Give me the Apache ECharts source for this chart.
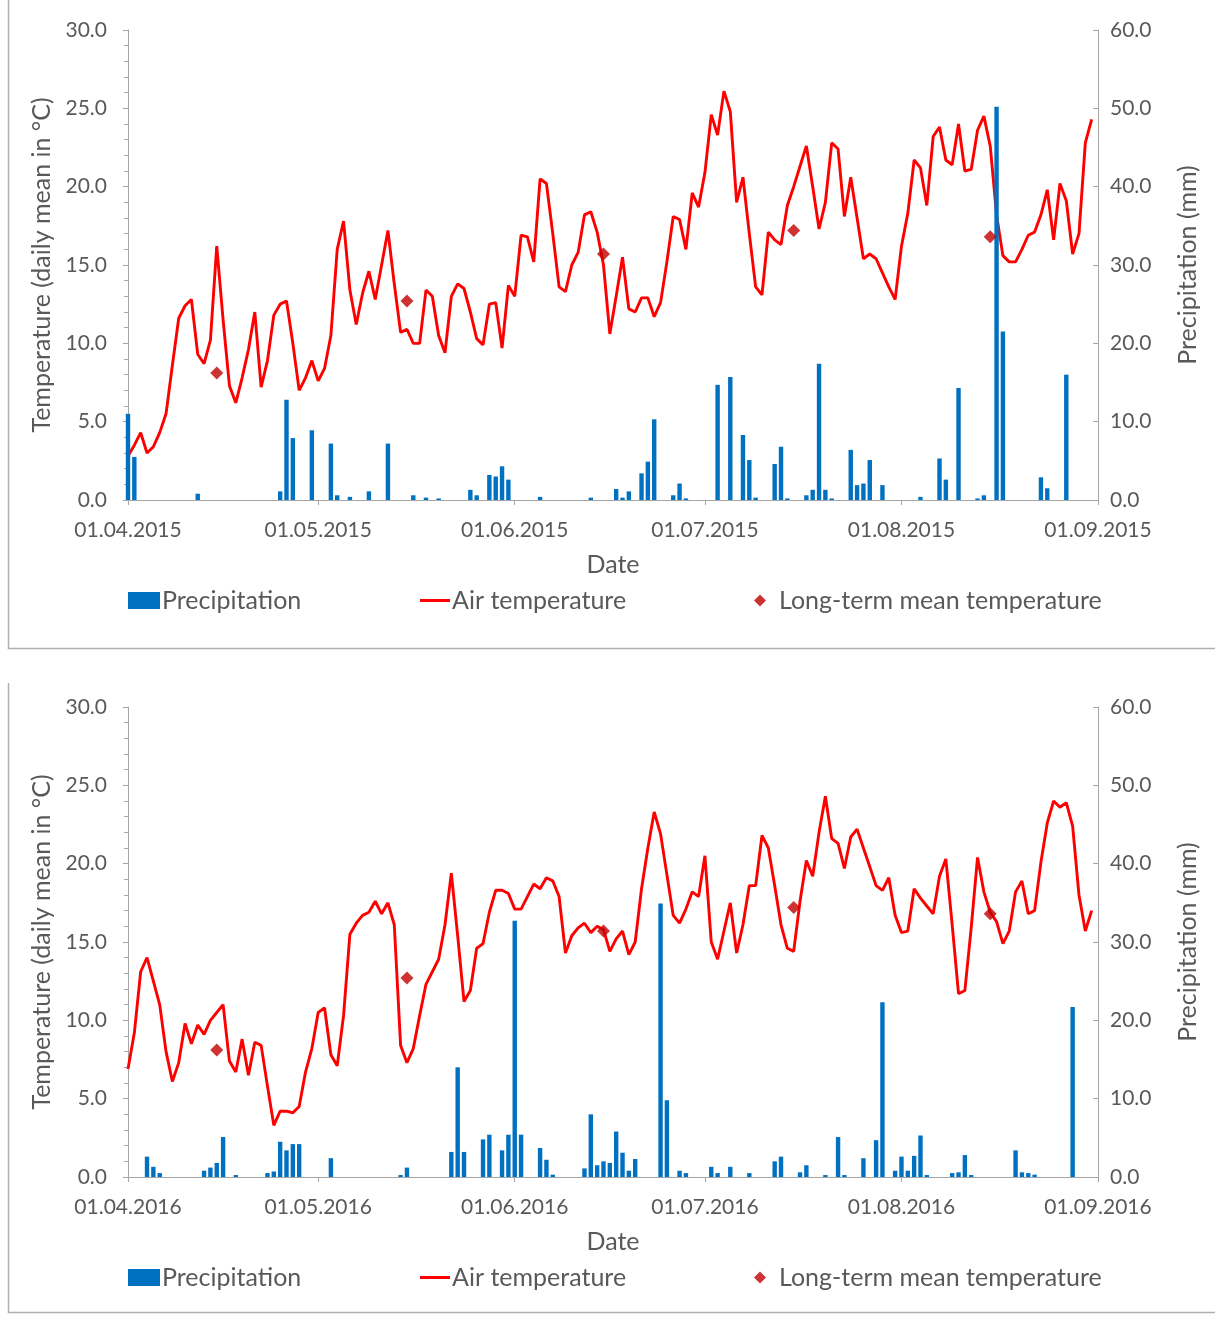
<!DOCTYPE html>
<html>
<head>
<meta charset="utf-8">
<script src="https://cdn.jsdelivr.net/npm/echarts@6/dist/echarts.min.js"></script>
<style>
html,body{margin:0;padding:0;background:#ffffff;}
#chart{width:1215px;height:1320px;}
</style>
</head>
<body>
<div id="chart"></div>
<script>
// ---------------- DATA ----------------
// Daily mean air temperature (°C), 01.04 … 31.08
const temp2015 = [
  2.8, 3.5, 4.3, 3.0, 3.4, 4.3, 5.5, 8.6, 11.6, 12.4,
  12.8, 9.3, 8.7, 10.2, 16.2, 11.5, 7.3, 6.2, 7.8, 9.6,
  12.0, 7.2, 8.9, 11.8, 12.5, 12.7, 10.0, 7.0, 7.8, 8.9,
  7.6, 8.4, 10.5, 16.0, 17.8, 13.4, 11.2, 13.2, 14.6, 12.8,
  15.0, 17.2, 13.8, 10.7, 10.9, 10.0, 10.0, 13.4, 13.0, 10.5,
  9.4, 13.0, 13.8, 13.5, 12.0, 10.3, 9.9, 12.5, 12.6, 9.7,
  13.7, 13.0, 16.9, 16.8, 15.2, 20.5, 20.2, 17.0, 13.6, 13.3,
  15.0, 15.8, 18.2, 18.4, 17.1, 15.0, 10.6, 13.0, 15.5, 12.2,
  12.0, 12.9, 12.9, 11.7, 12.6, 15.2, 18.1, 17.9, 16.0, 19.6,
  18.7, 20.9, 24.6, 23.3, 26.1, 24.8, 19.0, 20.6, 17.0, 13.6,
  13.1, 17.1, 16.6, 16.3, 18.8, 20.0, 21.3, 22.6, 20.0, 17.3,
  19.0, 22.8, 22.4, 18.1, 20.6, 18.0, 15.4, 15.7, 15.4, 14.5,
  13.6, 12.8, 16.2, 18.3, 21.7, 21.2, 18.8, 23.2, 23.8, 21.7,
  21.4, 24.0, 21.0, 21.1, 23.6, 24.5, 22.6, 18.2, 15.6, 15.2,
  15.2, 16.0, 16.9, 17.1, 18.2, 19.8, 16.6, 20.2, 19.1, 15.7,
  17.0, 22.8, 24.3
];
// Daily precipitation (mm), 01.04 … 31.08
const precip2015 = [
  11.0, 5.5, 0, 0, 0, 0, 0, 0, 0, 0,
  0, 0.8, 0, 0, 0, 0, 0, 0, 0, 0,
  0, 0, 0, 0, 1.1, 12.8, 7.9, 0, 0, 8.9,
  0, 0, 7.2, 0.6, 0, 0.4, 0, 0, 1.1, 0,
  0, 7.2, 0, 0, 0, 0.6, 0, 0.3, 0, 0.2,
  0, 0, 0, 0, 1.3, 0.6, 0, 3.2, 3.0, 4.3,
  2.6, 0, 0, 0, 0, 0.4, 0, 0, 0, 0,
  0, 0, 0, 0.3, 0, 0, 0, 1.4, 0.3, 1.1,
  0, 3.4, 4.9, 10.3, 0, 0, 0.6, 2.1, 0.2, 0,
  0, 0, 0, 14.7, 0, 15.7, 0, 8.3, 5.1, 0.3,
  0, 0, 4.6, 6.8, 0.2, 0, 0, 0.6, 1.3, 17.4,
  1.3, 0.2, 0, 0, 6.4, 1.9, 2.1, 5.1, 0, 1.9,
  0, 0, 0, 0, 0, 0.4, 0, 0, 5.3, 2.6,
  0, 14.3, 0, 0, 0.2, 0.6, 0, 50.2, 21.5, 0,
  0, 0, 0, 0, 2.9, 1.5, 0, 0, 16.0, 0,
  0, 0, 0
];
const temp2016 = [
  6.9, 9.2, 13.1, 14.0, 12.5, 11.0, 8.0, 6.1, 7.3, 9.8,
  8.5, 9.7, 9.1, 10.0, 10.5, 11.0, 7.4, 6.7, 8.8, 6.5,
  8.6, 8.4, 5.8, 3.3, 4.2, 4.2, 4.1, 4.5, 6.7, 8.2,
  10.5, 10.8, 7.8, 7.1, 10.3, 15.5, 16.2, 16.7, 16.9, 17.6,
  16.8, 17.5, 16.1, 8.4, 7.3, 8.2, 10.3, 12.3, 13.1, 13.9,
  16.1, 19.4, 15.4, 11.2, 11.9, 14.6, 14.9, 16.9, 18.3, 18.3,
  18.1, 17.1, 17.1, 17.9, 18.7, 18.4, 19.1, 18.9, 17.9, 14.3,
  15.4, 15.9, 16.2, 15.6, 16.0, 15.8, 14.4, 15.2, 15.7, 14.2,
  15.0, 18.4, 21.0, 23.3, 21.9, 19.3, 16.7, 16.2, 17.1, 18.2,
  17.9, 20.5, 15.0, 13.9, 15.7, 17.5, 14.3, 16.1, 18.6, 18.6,
  21.8, 21.0, 18.6, 16.1, 14.6, 14.4, 17.6, 20.2, 19.2, 22.0,
  24.3, 21.6, 21.3, 19.7, 21.7, 22.2, 21.0, 19.8, 18.6, 18.3,
  19.1, 16.7, 15.6, 15.7, 18.4, 17.8, 17.3, 16.8, 19.2, 20.3,
  16.1, 11.7, 11.9, 15.9, 20.4, 18.2, 16.9, 16.3, 14.9, 15.7,
  18.2, 18.9, 16.8, 17.0, 20.1, 22.6, 24.0, 23.6, 23.9, 22.4,
  18.0, 15.7, 17.0
];
const precip2016 = [
  0, 0, 0, 2.6, 1.3, 0.5, 0, 0, 0, 0,
  0, 0, 0.8, 1.2, 1.8, 5.1, 0, 0.25, 0, 0,
  0, 0, 0.5, 0.7, 4.5, 3.4, 4.2, 4.2, 0, 0,
  0, 0, 2.4, 0, 0, 0, 0, 0, 0, 0,
  0, 0, 0, 0.25, 1.2, 0, 0, 0, 0, 0,
  0, 3.2, 14.0, 3.2, 0, 0, 4.8, 5.4, 0, 3.4,
  5.4, 32.7, 5.4, 0, 0, 3.7, 2.2, 0.3, 0, 0,
  0, 0, 1.1, 8.0, 1.5, 2.0, 1.8, 5.8, 3.1, 0.8,
  2.3, 0, 0, 0, 34.9, 9.8, 0, 0.8, 0.5, 0,
  0, 0, 1.3, 0.5, 0, 1.3, 0, 0, 0.5, 0,
  0, 0, 2.0, 2.6, 0, 0, 0.6, 1.5, 0, 0,
  0.25, 0, 5.1, 0.25, 0, 0, 2.4, 0, 4.7, 22.3,
  0, 0.8, 2.6, 0.8, 2.7, 5.3, 0.25, 0, 0, 0,
  0.5, 0.6, 2.8, 0.25, 0, 0, 0, 0, 0, 0,
  3.4, 0.6, 0.5, 0.3, 0, 0, 0, 0, 0, 21.7,
  0, 0, 0
];
// Long-term monthly mean temperature, plotted mid-month
const longTermDays = ['15.04', '15.05', '15.06', '15.07', '15.08'];
const longTermMean = [8.1, 12.7, 15.7, 17.2, 16.8];
// Axis ticks
const tempTicks = [0, 5, 10, 15, 20, 25, 30];
const precipTicks = [0, 10, 20, 30, 40, 50, 60];

// ---------------- HELPERS ----------------
function pad(n){ return (n < 10 ? '0' : '') + n; }
function dayCategories(year){
  const out = [];
  const d = new Date(Date.UTC(year, 3, 1));
  const end = Date.UTC(year, 8, 1);
  while (d.getTime() <= end){
    out.push(pad(d.getUTCDate()) + '.' + pad(d.getUTCMonth() + 1) + '.' + year);
    d.setUTCDate(d.getUTCDate() + 1);
  }
  return out;
}
const cats2015 = dayCategories(2015);
const cats2016 = dayCategories(2016);

const FONT = 'Lato';
const TXT = '#595959';
const AXIS = '#A6A6A6';
const monthStart = function(idx, val){ return String(val).slice(0, 3) === '01.'; };

function panel(i, cats, top){
  const xAxis = {
    type: 'category', gridIndex: i, data: cats, boundaryGap: false,
    axisLine: {show: true, lineStyle: {color: AXIS, width: 1}},
    axisTick: {show: true, interval: monthStart, length: 5, lineStyle: {color: AXIS}},
    axisLabel: {interval: monthStart, margin: 20, fontSize: 21, color: TXT, fontFamily: FONT, showMaxLabel: true, showMinLabel: true},
    splitLine: {show: false},
    name: 'Date', nameLocation: 'middle', nameGap: 52,
    nameTextStyle: {fontSize: 25, color: TXT, fontFamily: FONT}
  };
  const yLeft = {
    type: 'value', gridIndex: i, position: 'left', min: tempTicks[0], max: tempTicks[tempTicks.length - 1], interval: 5,
    axisLine: {show: true, lineStyle: {color: AXIS, width: 1}},
    axisTick: {show: true, length: 5, lineStyle: {color: AXIS}},
    minorTick: {show: true, splitNumber: 5, length: 4, lineStyle: {color: AXIS}},
    splitLine: {show: false},
    axisLabel: {formatter: v => v.toFixed(1), fontSize: 21, color: TXT, fontFamily: FONT, margin: 21},
    name: 'Temperature (daily mean in °C)', nameLocation: 'middle', nameRotate: 90, nameGap: 70,
    nameTextStyle: {fontSize: 25, color: TXT, fontFamily: FONT}
  };
  const yRight = {
    type: 'value', gridIndex: i, position: 'right', min: precipTicks[0], max: precipTicks[precipTicks.length - 1], interval: 10,
    axisLine: {show: true, lineStyle: {color: AXIS, width: 1}},
    axisTick: {show: true, inside: true, length: 5, lineStyle: {color: AXIS}},
    splitLine: {show: false},
    axisLabel: {formatter: v => v.toFixed(1), fontSize: 21, color: TXT, fontFamily: FONT, margin: 12},
    name: 'Precipitation (mm)', nameLocation: 'middle', nameRotate: 90, nameGap: 77,
    nameTextStyle: {fontSize: 25, color: TXT, fontFamily: FONT}
  };
  return {xAxis, yLeft, yRight, grid: {left: 128, top: top, width: 970, height: 470, containLabel: false}};
}

const p0 = panel(0, cats2015, 30);
const p1 = panel(1, cats2016, 707);

function seriesFor(i, temp, precip, year){
  return [
    {
      name: 'Air temperature', type: 'line', xAxisIndex: i, yAxisIndex: 2 * i,
      data: temp, showSymbol: false, symbol: 'none', smooth: false,
      lineStyle: {color: '#FF0000', width: 2.9}, itemStyle: {color: '#FF0000'}, z: 2, silent: true
    },
    {
      name: 'Precipitation', type: 'bar', xAxisIndex: i, yAxisIndex: 2 * i + 1,
      data: precip, barWidth: 4.4, clip: false,
      itemStyle: {color: '#0070C0'}, z: 3, silent: true
    },
    {
      name: 'Long-term mean temperature', type: 'scatter', xAxisIndex: i, yAxisIndex: 2 * i,
      data: longTermDays.map((d, k) => [d + '.' + year, longTermMean[k]]),
      symbol: 'diamond', symbolSize: 13, itemStyle: {color: '#C00000'}, z: 4, silent: true
    }
  ];
}

function legends(top){
  const ts = {fontSize: 25, color: TXT, fontFamily: FONT};
  return [
    {left: 128, top: top, padding: 0, itemWidth: 32, itemHeight: 17, selectedMode: false,
     textStyle: Object.assign({padding: [0, 0, 0, -3]}, ts),
     data: [{name: 'Precipitation', icon: 'rect'}]},
    {left: 420, top: top, padding: 0, itemWidth: 30, itemHeight: 3, selectedMode: false,
     textStyle: Object.assign({padding: [0, 0, 0, -3]}, ts),
     data: [{name: 'Air temperature', icon: 'rect'}]},
    {left: 754, top: top, padding: 0, itemWidth: 12, itemHeight: 12, selectedMode: false,
     textStyle: Object.assign({padding: [0, 0, 0, 8]}, ts),
     data: [{name: 'Long-term mean temperature', icon: 'diamond'}]}
  ];
}

const option = {
  backgroundColor: '#ffffff',
  animation: false,
  textStyle: {fontFamily: FONT},
  grid: [p0.grid, p1.grid],
  xAxis: [p0.xAxis, p1.xAxis],
  yAxis: [p0.yLeft, p0.yRight, p1.yLeft, p1.yRight],
  legend: legends(588).concat(legends(1265)),
  series: seriesFor(0, temp2015, precip2015, 2015).concat(seriesFor(1, temp2016, precip2016, 2016)),
  graphic: [
    {type: 'polyline', shape: {points: [[8.5, 0], [8.5, 648.5], [1215, 648.5]]},
     style: {stroke: '#B0B0B0', lineWidth: 1.5, fill: null}, silent: true},
    {type: 'polyline', shape: {points: [[8.5, 683], [8.5, 1312.5], [1215, 1312.5]]},
     style: {stroke: '#B0B0B0', lineWidth: 1.5, fill: null}, silent: true}
  ]
};

const chart = echarts.init(document.getElementById('chart'), null, {renderer: 'canvas'});
chart.setOption(option);
</script>
</body>
</html>
